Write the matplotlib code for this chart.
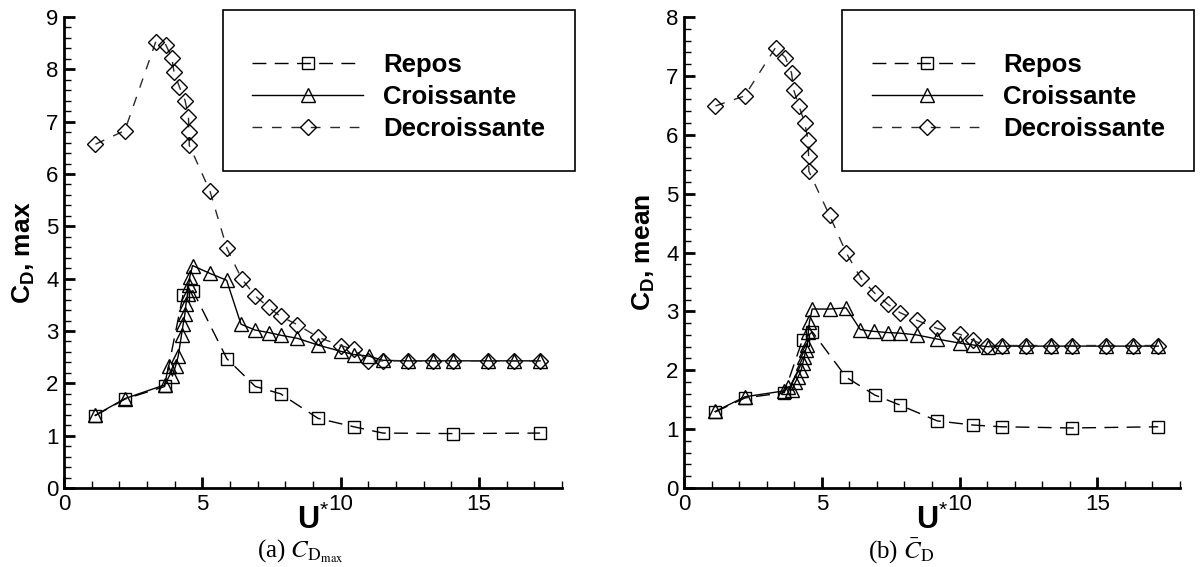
import matplotlib
matplotlib.use("Agg")
import matplotlib.pyplot as plt
from matplotlib.ticker import MultipleLocator, FixedLocator

plt.rcParams['font.family'] = ['Liberation Sans', 'DejaVu Sans']
plt.rcParams['mathtext.fontset'] = 'custom'
plt.rcParams['mathtext.rm'] = 'Liberation Sans'
plt.rcParams['mathtext.bf'] = 'Liberation Sans:bold'
plt.rcParams['mathtext.it'] = 'Liberation Sans:italic'

# ---------------- data ----------------
labels = ["Repos", "Croissante", "Decroissante"]

u_repos = [1.12, 2.21, 3.64, 4.30, 4.66, 5.89, 6.92, 7.83, 9.19, 10.48, 11.53, 14.07, 17.21]
cdmax_repos = [1.38, 1.70, 1.94, 3.68, 3.77, 2.47, 1.94, 1.80, 1.33, 1.17, 1.05, 1.04, 1.05]
cdmean_repos = [1.29, 1.53, 1.62, 2.52, 2.65, 1.88, 1.58, 1.41, 1.14, 1.07, 1.04, 1.02, 1.04]

u_crois = [1.13, 2.21, 3.64, 3.78, 3.92, 4.04, 4.13, 4.25, 4.31, 4.37, 4.41, 4.47, 4.51,
           4.55, 4.65, 5.28, 5.88, 6.40, 6.90, 7.40, 7.83, 8.44, 9.19, 10.02, 10.48,
           11.03, 11.53, 12.42, 13.33, 14.07, 15.31, 16.28, 17.21]
cdmax_crois = [1.39, 1.71, 1.97, 2.33, 2.14, 2.34, 2.52, 2.93, 3.13, 3.32, 3.51, 3.70, 3.88,
               4.04, 4.25, 4.10, 3.97, 3.13, 3.02, 2.97, 2.92, 2.86, 2.73, 2.61, 2.55,
               2.52, 2.44, 2.43, 2.43, 2.43, 2.43, 2.43, 2.43]
cdmean_crois = [1.30, 1.55, 1.65, 1.72, 1.66, 1.80, 1.88, 2.00, 2.12, 2.23, 2.34, 2.43, 2.65,
                2.82, 3.04, 3.04, 3.06, 2.69, 2.66, 2.64, 2.63, 2.60, 2.53, 2.46, 2.43,
                2.40, 2.41, 2.41, 2.41, 2.41, 2.41, 2.41, 2.41]

u_decr = [1.14, 2.20, 3.32, 3.68, 3.90, 3.98, 4.17, 4.38, 4.50, 4.52, 4.53, 5.28, 5.89,
          6.42, 6.92, 7.40, 7.83, 8.44, 9.19, 10.02, 10.48, 11.00, 11.53, 12.42, 13.33,
          14.07, 15.31, 16.28, 17.21]
cdmax_decr = [6.57, 6.83, 8.53, 8.47, 8.22, 7.94, 7.67, 7.40, 7.09, 6.80, 6.55, 5.67, 4.58,
              4.00, 3.67, 3.45, 3.28, 3.12, 2.88, 2.72, 2.65, 2.42, 2.43, 2.43, 2.43,
              2.43, 2.43, 2.43, 2.43]
cdmean_decr = [6.49, 6.66, 7.48, 7.31, 7.05, 6.76, 6.49, 6.20, 5.91, 5.64, 5.38, 4.63, 3.99,
               3.56, 3.31, 3.12, 2.98, 2.85, 2.71, 2.61, 2.51, 2.41, 2.42, 2.42, 2.42,
               2.42, 2.42, 2.42, 2.42]

x_major_ticks = [0, 5, 10, 15]
xlabel_text = r"U$^{*}$"
ylabels = [r"C$_\mathbf{D}$, max", r"C$_\mathbf{D}$, mean"]
captions = [r"(a) $C_{\mathrm{D}_{\mathrm{max}}}$", r"(b) $\bar{C}_{\mathrm{D}}$"]
ymax = [9, 8]

# ---------------- figure ----------------
fig = plt.figure(figsize=(12.02, 5.67), dpi=100)
axes = [fig.add_axes([0.0532, 0.1393, 0.4143, 0.8307]),
        fig.add_axes([0.5691, 0.1393, 0.4126, 0.8307])]

series = [
    (u_repos, [cdmax_repos, cdmean_repos],
     dict(color='black', ls=(0, (10, 6)), marker='s', ms=8.7)),
    (u_crois, [cdmax_crois, cdmean_crois],
     dict(color='black', ls='-', marker='^', ms=9.8)),
    (u_decr, [cdmax_decr, cdmean_decr],
     dict(color='#2a2a2a', ls=(0, (7, 7)), marker='D', ms=7.8)),
]

for i, ax in enumerate(axes):
    for (xs, ys, st), lab in zip(series, labels):
        ax.plot(xs, ys[i], color=st['color'], linestyle=st['ls'], lw=1.0,
                marker=st['marker'], markersize=st['ms'], markerfacecolor='none',
                markeredgecolor='black', markeredgewidth=1.0, label=lab)
    ax.set_xlim(0, 18)
    ax.set_ylim(0, ymax[i])
    ax.xaxis.set_major_locator(FixedLocator(x_major_ticks))
    ax.xaxis.set_minor_locator(MultipleLocator(1))
    ax.yaxis.set_major_locator(MultipleLocator(1))
    ax.yaxis.set_minor_locator(MultipleLocator(0.2))
    for s in ['top', 'right']:
        ax.spines[s].set_visible(False)
    for s in ['left', 'bottom']:
        ax.spines[s].set_linewidth(2)
    ax.tick_params(which='major', direction='in', length=8, width=2, labelsize=16, pad=4)
    ax.tick_params(which='minor', direction='in', length=5, width=1)
    ax.set_xlabel(xlabel_text, fontsize=22, fontweight='bold')
    ax.xaxis.set_label_coords(0.5, -0.068)
    ax.xaxis.label.set_va('center')
    ax.set_ylabel(ylabels[i], fontsize=19, fontweight='bold')
    ax.yaxis.set_label_coords(-0.054, 0.5)
    leg = ax.legend(loc='upper left', bbox_to_anchor=(0.319, 1.015), borderaxespad=0,
                    prop={'family': 'Liberation Sans', 'weight': 'bold', 'size': 18.5},
                    handlelength=4.3, handletextpad=0.8, borderpad=1.15, labelspacing=0.32,
                    title=' ', title_fontsize=4,
                    fancybox=False, framealpha=1, edgecolor='black')
    leg.get_frame().set_linewidth(1.2)
    fig.text(0.25 + 0.5 * i, 0.028, captions[i], ha='center', va='center',
             fontsize=18, family='Liberation Serif', math_fontfamily='stix')

fig.savefig("out.png", dpi=100)
